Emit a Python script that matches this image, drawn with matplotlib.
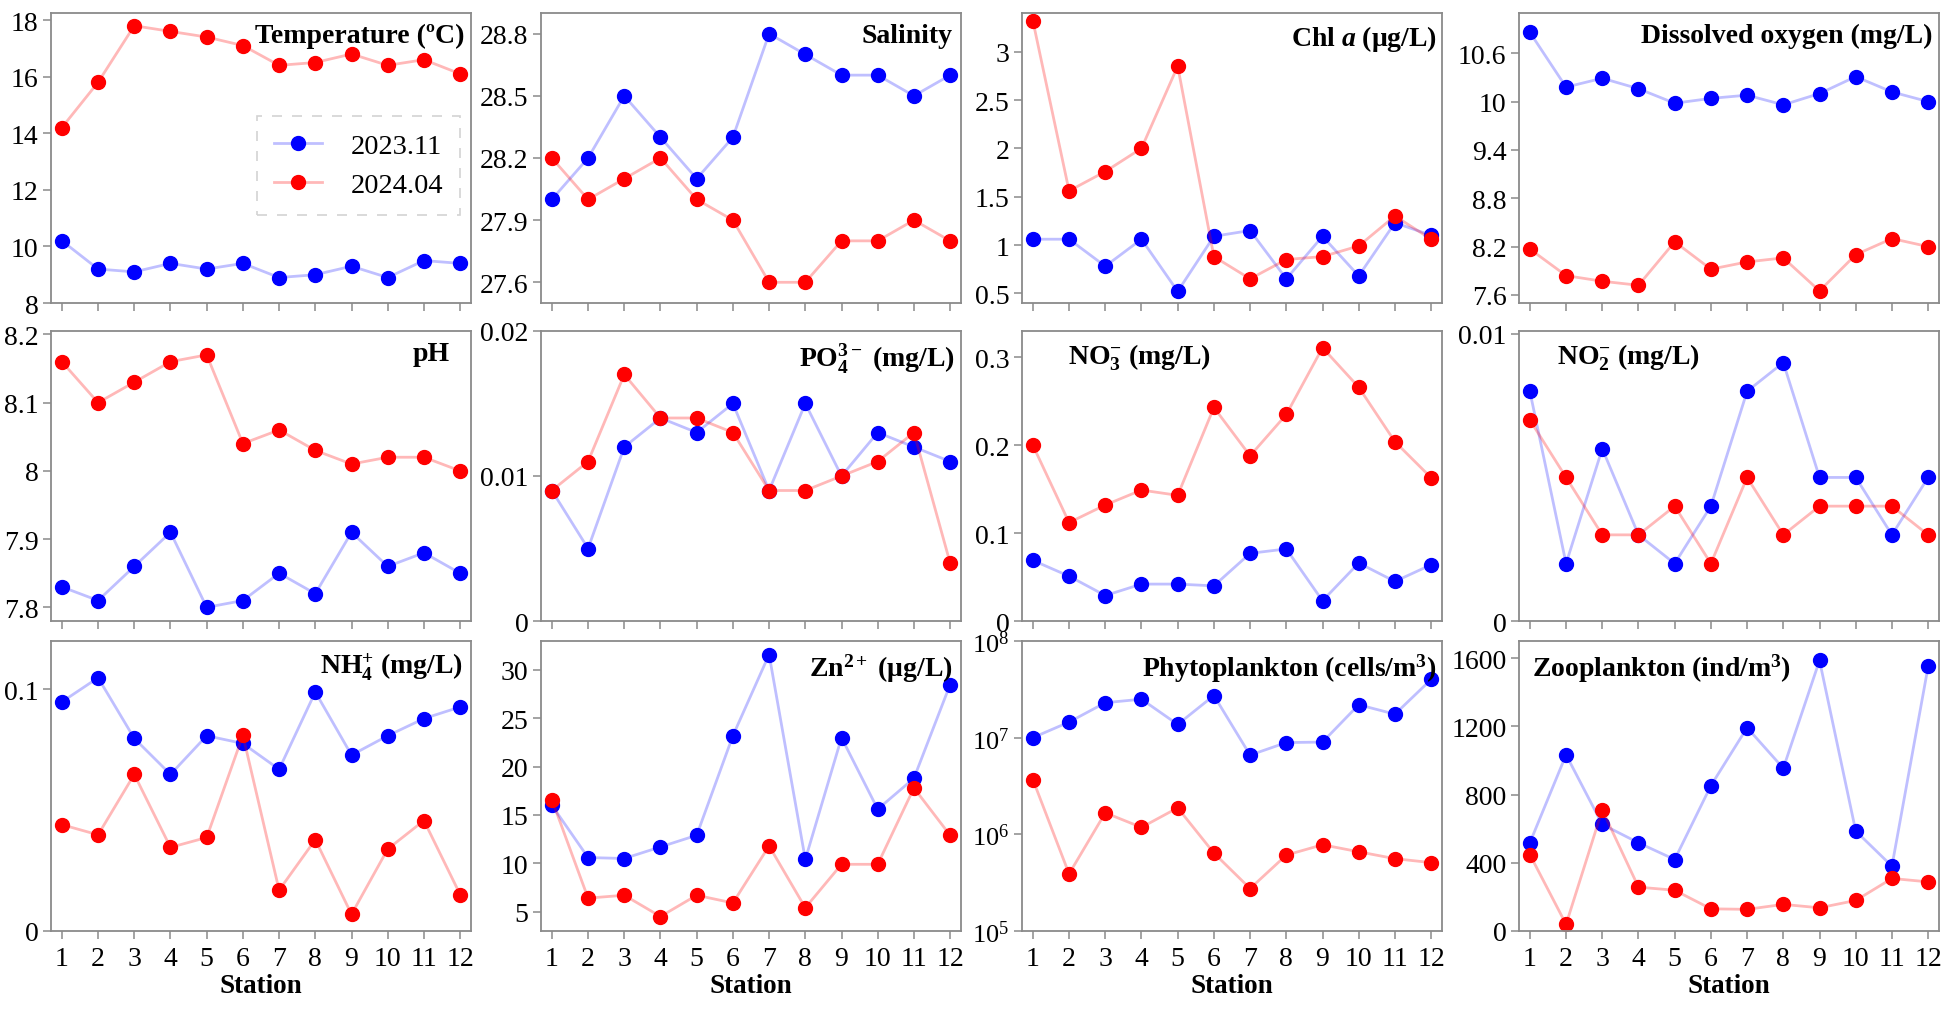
import matplotlib
matplotlib.use("Agg")
import matplotlib.pyplot as plt
from matplotlib.ticker import FuncFormatter, LogLocator, NullLocator, LogFormatterSciNotation

plt.rcParams['font.family'] = 'serif'
plt.rcParams['font.serif'] = ['Liberation Serif', 'DejaVu Serif']
plt.rcParams['mathtext.fontset'] = 'custom'
plt.rcParams['mathtext.rm'] = 'Liberation Serif'
plt.rcParams['mathtext.it'] = 'Liberation Serif:italic:bold'
plt.rcParams['mathtext.bf'] = 'Liberation Serif:bold'
plt.rcParams['mathtext.default'] = 'regular'

stations = list(range(1, 13))
series_labels = ['2023.11', '2024.04']

temp_nov = [10.2, 9.2, 9.1, 9.4, 9.2, 9.4, 8.9, 9.0, 9.3, 8.9, 9.5, 9.4]
temp_apr = [14.2, 15.8, 17.8, 17.6, 17.4, 17.1, 16.4, 16.5, 16.8, 16.4, 16.6, 16.1]

sal_nov = [28.0, 28.2, 28.5, 28.3, 28.1, 28.3, 28.8, 28.7, 28.6, 28.6, 28.5, 28.6]
sal_apr = [28.2, 28.0, 28.1, 28.2, 28.0, 27.9, 27.6, 27.6, 27.8, 27.8, 27.9, 27.8]

chl_nov = [1.06, 1.06, 0.78, 1.06, 0.52, 1.09, 1.15, 0.65, 1.09, 0.68, 1.23, 1.10]
chl_apr = [3.32, 1.56, 1.76, 2.00, 2.85, 0.88, 0.65, 0.85, 0.88, 0.99, 1.30, 1.06]

do_nov = [10.86, 10.18, 10.29, 10.16, 9.98, 10.04, 10.08, 9.96, 10.10, 10.31, 10.12, 10.00]
do_apr = [8.17, 7.84, 7.77, 7.72, 8.26, 7.92, 8.01, 8.06, 7.65, 8.10, 8.30, 8.20]

ph_nov = [7.83, 7.81, 7.86, 7.91, 7.80, 7.81, 7.85, 7.82, 7.91, 7.86, 7.88, 7.85]
ph_apr = [8.16, 8.10, 8.13, 8.16, 8.17, 8.04, 8.06, 8.03, 8.01, 8.02, 8.02, 8.00]

po4_nov = [0.009, 0.005, 0.012, 0.014, 0.013, 0.015, 0.009, 0.015, 0.010, 0.013, 0.012, 0.011]
po4_apr = [0.009, 0.011, 0.017, 0.014, 0.014, 0.013, 0.009, 0.009, 0.010, 0.011, 0.013, 0.004]

no3_nov = [0.069, 0.051, 0.029, 0.042, 0.042, 0.040, 0.077, 0.082, 0.023, 0.066, 0.045, 0.064]
no3_apr = [0.200, 0.112, 0.132, 0.149, 0.143, 0.243, 0.188, 0.235, 0.311, 0.266, 0.204, 0.163]

no2_nov = [0.008, 0.002, 0.006, 0.003, 0.002, 0.004, 0.008, 0.009, 0.005, 0.005, 0.003, 0.005]
no2_apr = [0.007, 0.005, 0.003, 0.003, 0.004, 0.002, 0.005, 0.003, 0.004, 0.004, 0.004, 0.003]

nh4_nov = [0.0948, 0.1048, 0.0797, 0.0648, 0.0808, 0.0776, 0.0669, 0.0989, 0.0728, 0.0808, 0.0879, 0.0927]
nh4_apr = [0.0440, 0.0398, 0.0648, 0.0346, 0.0387, 0.0810, 0.0169, 0.0378, 0.0069, 0.0339, 0.0457, 0.0151]

zn_nov = [16.0, 10.6, 10.5, 11.7, 12.9, 23.2, 31.6, 10.4, 23.0, 15.6, 18.8, 28.5]
zn_apr = [16.6, 6.4, 6.7, 4.5, 6.7, 5.9, 11.8, 5.4, 9.9, 9.9, 17.8, 12.9]

phyto_nov = [1.0e7, 1.45e7, 2.3e7, 2.5e7, 1.37e7, 2.73e7, 6.6e6, 8.9e6, 9.0e6, 2.19e7, 1.75e7, 4.0e7]
phyto_apr = [3.69e6, 3.9e5, 1.67e6, 1.18e6, 1.88e6, 6.4e5, 2.75e5, 6.1e5, 7.8e5, 6.6e5, 5.6e5, 5.1e5]

zoo_nov = [517, 1033, 625, 517, 419, 852, 1192, 954, 1586, 586, 380, 1551]
zoo_apr = [448, 39, 710, 257, 239, 130, 127, 156, 136, 179, 308, 288]

titles = ['Temperature (ºC)', 'Salinity', r'Chl $\it{a}$ (μg/L)', 'Dissolved oxygen (mg/L)',
          'pH', r'PO$_4^{3-}$ (mg/L)', r'NO$_3^{-}$ (mg/L)', r'NO$_2^{-}$ (mg/L)',
          r'NH$_4^{+}$ (mg/L)', r'Zn$^{2+}$ (μg/L)', r'Phytoplankton (cells/m$^3$)', r'Zooplankton (ind/m$^3$)']

panels = [
    (temp_nov, temp_apr, (8, 18.25), [8, 10, 12, 14, 16, 18], False, ('r', 0.985)),
    (sal_nov, sal_apr, (27.5, 28.9), [27.6, 27.9, 28.2, 28.5, 28.8], False, ('r', 0.98)),
    (chl_nov, chl_apr, (0.4, 3.4), [0.5, 1, 1.5, 2, 2.5, 3], False, ('r', 0.988)),
    (do_nov, do_apr, (7.5, 11.1), [7.6, 8.2, 8.8, 9.4, 10, 10.6], False, ('r', 0.984)),
    (ph_nov, ph_apr, (7.78, 8.205), [7.8, 7.9, 8.0, 8.1, 8.2], False, ('r', 0.95)),
    (po4_nov, po4_apr, (0, 0.02), [0, 0.01, 0.02], False, ('r', 0.985)),
    (no3_nov, no3_apr, (0, 0.33), [0, 0.1, 0.2, 0.3], False, ('l', 0.11)),
    (no2_nov, no2_apr, (0, 0.0101), [0, 0.01], False, ('l', 0.09)),
    (nh4_nov, nh4_apr, (0, 0.12), [0, 0.1], False, ('r', 0.982)),
    (zn_nov, zn_apr, (3, 33), [5, 10, 15, 20, 25, 30], False, ('r', 0.98)),
    (phyto_nov, phyto_apr, (1e5, 1e8), None, True, ('r', 0.986)),
    (zoo_nov, zoo_apr, (0, 1700), [0, 400, 800, 1200, 1600], False, ('l', 0.032)),
]

W, H = 1949, 1020
fig = plt.figure(figsize=(W / 100, H / 100), dpi=100)
col_left = [51, 541, 1022, 1519]
row_top = [14, 332, 642]
aw, ah = 420, 290

blue_line = (0, 0, 1, 0.25)
red_line = (1, 0, 0, 0.28)
spine_col = '#8a8a8a'

fmt = FuncFormatter(lambda v, p: f'{round(v, 6):g}')

for i, (nov, apr, ylim, yt, logy, tpos) in enumerate(panels):
    r, c = divmod(i, 4)
    ax = fig.add_axes([col_left[c] / W, (H - row_top[r] - ah) / H, aw / W, ah / H])
    ax.plot(stations, nov, '-o', color=blue_line, lw=2, markersize=10,
            markerfacecolor='#0000ff', markeredgecolor='#0000ff', label=series_labels[0])
    ax.plot(stations, apr, '-o', color=red_line, lw=2, markersize=10,
            markerfacecolor='#ff0000', markeredgecolor='#ff0000', label=series_labels[1])
    if logy:
        ax.set_yscale('log')
        ax.yaxis.set_major_locator(LogLocator(base=10, numticks=10))
        ax.yaxis.set_major_formatter(LogFormatterSciNotation())
        ax.yaxis.set_minor_locator(NullLocator())
    else:
        ax.set_yticks(yt)
        ax.yaxis.set_major_formatter(fmt)
    ax.set_ylim(*ylim)
    ax.set_xlim(0.7, 12.3)
    ax.set_xticks(stations)
    for s in ax.spines.values():
        s.set_color(spine_col)
        s.set_linewidth(1.3)
    ax.tick_params(axis='both', direction='out', length=6, width=1.1, color=spine_col,
                   labelsize=20, pad=3)
    ax.tick_params(axis='x', pad=5)
    if logy:
        ax.tick_params(axis='y', labelsize=19)
    if r < 2:
        ax.tick_params(axis='x', labelbottom=False)
    else:
        ax.set_xlabel('Station', fontsize=19.5, fontweight='bold', labelpad=1)
    side, xpos = tpos
    ax.text(xpos, 0.965, titles[i], transform=ax.transAxes, ha='right' if side == 'r' else 'left',
            va='top', fontsize=20, fontweight='bold')
    if i == 0:
        leg = ax.legend(loc='upper right', bbox_to_anchor=(0.975, 0.645), fontsize=20.5,
                        frameon=True, fancybox=False, handlelength=1.7, borderpad=0.6,
                        labelspacing=0.45, handletextpad=1.0, borderaxespad=0)
        fr = leg.get_frame()
        fr.set_linestyle((0, (6, 6)))
        fr.set_edgecolor('#c8c8c8')
        fr.set_linewidth(1.2)

fig.savefig('out.png', dpi=100)
